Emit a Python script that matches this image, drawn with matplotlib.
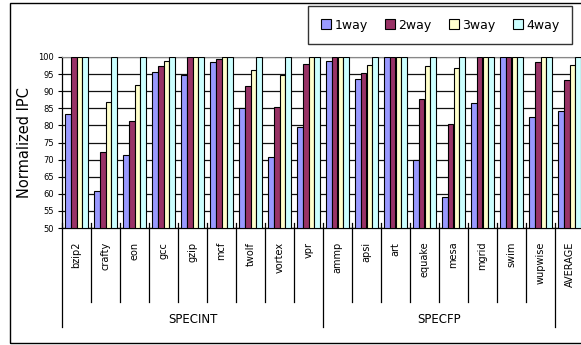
import matplotlib
matplotlib.use("Agg")
import matplotlib.pyplot as plt
import matplotlib.transforms as mtransforms
from matplotlib.patches import Rectangle

benchmarks = ["bzip2", "crafty", "eon", "gcc", "gzip", "mcf", "twolf", "vortex", "vpr",
              "ammp", "apsi", "art", "equake", "mesa", "mgrid", "swim", "wupwise", "AVERAGE"]
one_way = [83.2, 60.7, 71.2, 95.7, 94.7, 98.4, 85.1, 70.9, 79.6,
           98.7, 93.5, 100, 70.0, 59.2, 86.6, 100, 82.5, 84.2]
two_way = [100, 72.1, 81.2, 97.3, 100, 99.5, 91.5, 85.5, 97.9,
           100, 95.4, 100, 87.8, 80.4, 100, 100, 98.5, 93.3]
three_way = [100, 86.8, 91.8, 98.8, 100, 100, 96.3, 94.7, 100,
             100, 97.6, 100, 97.5, 96.7, 100, 100, 99.9, 97.7]
four_way = [100] * 18

series = [("1way", one_way, "#9999FF"),
          ("2way", two_way, "#993366"),
          ("3way", three_way, "#FFFFCC"),
          ("4way", four_way, "#CCFFFF")]

# suite name, first index, last index (exclusive)
groups = [("SPECINT", 0, 9), ("SPECFP", 9, 17)]
yticks = list(range(50, 101, 5))

W, H = 581, 345
fig = plt.figure(figsize=(W / 100, H / 100), dpi=100)
ax = fig.add_axes([62 / W, 1 - 228 / H, 522 / W, 171 / H])

width = 0.19
n = len(benchmarks)
for k, (name, vals, col) in enumerate(series):
    xs = [i + (k - 1.5) * width for i in range(n)]
    ax.bar(xs, [v - 50 for v in vals], width, bottom=50, color=col,
           edgecolor="black", linewidth=0.8, label=name, zorder=3)

ax.set_xlim(-0.5, n - 0.5)
ax.set_ylim(50, 100)
ax.set_yticks(yticks)
ax.set_yticklabels([str(t) for t in yticks], fontsize=6)
ax.tick_params(axis="y", length=3, width=0.8, pad=3)
ax.set_xticks([])
ax.yaxis.grid(True, color="#111111", linewidth=0.9, zorder=0)
ax.set_axisbelow(True)
ax.spines["top"].set_color("#888888")
ax.spines["right"].set_visible(False)
ax.spines["left"].set_linewidth(0.9)
ax.spines["bottom"].set_linewidth(0.9)
ax.set_ylabel("Normalized IPC", fontsize=10.5, labelpad=4)

# category labels and separator lines under the axis
trans = mtransforms.blended_transform_factory(ax.transData, ax.transAxes)
for i, b in enumerate(benchmarks):
    ax.text(i, -0.08, b, rotation=90, ha="center", va="top", fontsize=7,
            transform=trans)
long_lines = {g[1] for g in groups} | {groups[-1][2]}
for j in range(n):
    bottom = -0.58 if j in long_lines else -0.435
    ax.plot([j - 0.5, j - 0.5], [0.03, bottom], color="black", lw=0.9,
            transform=trans, clip_on=False, zorder=4)

for name, a, b in groups:
    ax.text((a + b - 1) / 2, -0.535, name, ha="center", va="center",
            fontsize=8.5, transform=trans)

leg = fig.legend(loc="center", ncol=4, bbox_to_anchor=(308 / W, 1 - 45 / H, 264 / W, 40 / H),
                 mode="expand", fontsize=9, frameon=True, fancybox=False,
                 edgecolor="black", handlelength=0.8, handleheight=0.8,
                 handletextpad=0.3, borderpad=1.0, borderaxespad=0)
leg.get_frame().set_linewidth(1.0)

# outer chart border
fig.patches.append(Rectangle((10 / W, 2 / H), 1.0, 340 / H, transform=fig.transFigure,
                             fill=False, edgecolor="black", linewidth=1.0))

fig.savefig("out.png", dpi=100)
